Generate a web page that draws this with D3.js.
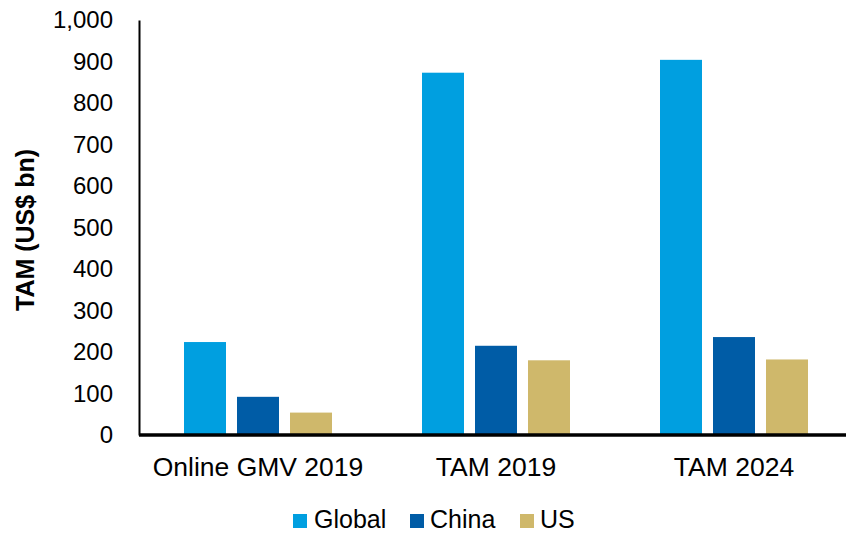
<!DOCTYPE html>
<html><head><meta charset="utf-8">
<script src="https://cdn.jsdelivr.net/npm/d3@7"></script>
<style>body{margin:0;background:#fff}text{font-family:"Liberation Sans",Arial,sans-serif}</style>
</head><body>
<svg id="c" width="846" height="533"></svg>
<script>
const categories = ["Online GMV 2019", "TAM 2019", "TAM 2024"];
const seriesNames = ["Global", "China", "US"];
const globalVals = [224, 873, 904];
const chinaVals = [92, 215, 236];
const usVals = [54, 180, 182];
const yTicks = [0,100,200,300,400,500,600,700,800,900,1000];
const colors = ["#009FE0", "#005CA6", "#CFB86B"];

const series = [globalVals, chinaVals, usVals];
const svg = d3.select("#c");
const m = {left:139, top:20, bottom:435, right:853};
const x = d3.scaleBand().domain(categories).range([m.left, m.right]).paddingInner(0).paddingOuter(0);
const y = d3.scaleLinear().domain([0,1000]).range([m.bottom, m.top]);
const barW = 42, gap = 11;
const inner = d3.scaleBand().domain(seriesNames).range([0, barW*3+gap*2]).paddingInner(gap/(barW+gap)).paddingOuter(0);

categories.forEach((c,i)=>{
  const gx = x(c) + (x.bandwidth() - (barW*3+gap*2))/2;
  seriesNames.forEach((s,j)=>{
    svg.append("rect")
      .attr("x", gx + inner(s))
      .attr("y", y(series[j][i]))
      .attr("width", inner.bandwidth())
      .attr("height", y(0)-y(series[j][i]))
      .attr("fill", colors[j]);
  });
});

// y axis
const ya = svg.append("g").attr("transform",`translate(${m.left},0)`)
  .call(d3.axisLeft(y).tickValues(yTicks).tickSize(0).tickPadding(26).tickFormat(d3.format(",")));
ya.select(".domain").attr("stroke","#000").attr("stroke-width",2);
ya.selectAll("text").attr("font-size",24).attr("fill","#000").attr("font-family","Liberation Sans, Arial, sans-serif");

// x axis
const xa = svg.append("g").attr("transform",`translate(0,${m.bottom})`)
  .call(d3.axisBottom(x).tickSize(0).tickPadding(0));
xa.select(".domain").attr("stroke","#000").attr("stroke-width",3.5).attr("d",`M${m.left},0H846`);
xa.selectAll("text").attr("font-size",26.5).attr("fill","#000").attr("dy",null).attr("y",41)
  .attr("font-family","Liberation Sans, Arial, sans-serif");

// y title
svg.append("text").attr("transform","translate(34,230) rotate(-90)")
  .attr("text-anchor","middle").attr("font-size",25).attr("font-weight","bold").text("TAM (US$ bn)");

// legend
const legX = [293, 410, 520];
const legTX = [314, 430, 540];
seriesNames.forEach((s,j)=>{
  svg.append("rect").attr("x",legX[j]).attr("y",514).attr("width",14).attr("height",14).attr("fill",colors[j]);
  svg.append("text").attr("x",legTX[j]).attr("y",527.5).attr("font-size",25).attr("fill","#000").text(s);
});
</script>
</body></html>
